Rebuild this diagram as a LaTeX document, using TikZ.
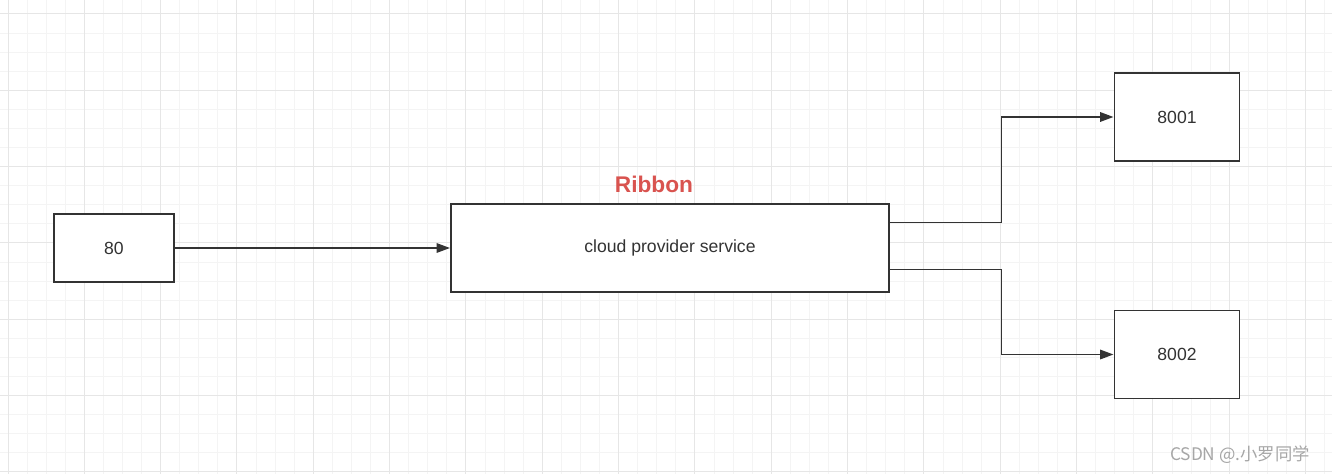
\documentclass[tikz,border=0pt]{standalone}
\usepackage{fontspec}
\setmainfont{Liberation Sans}
\newfontfamily\cjkfont{Noto Sans CJK SC}
\usetikzlibrary{arrows.meta}
\definecolor{gridminor}{HTML}{F4F4F4}
\definecolor{gridmajor}{HTML}{E6E6E6}
\definecolor{ink}{HTML}{333333}
\definecolor{ribbonred}{HTML}{D9534F}
\definecolor{wm}{HTML}{A6A6A6}
\tikzset{
  box/.style={draw=ink, line width=1.4pt, fill=white, inner sep=0pt, text=ink,
    font=\fontsize{13.2}{15}\selectfont},
  conn/.style={draw=ink, line width=1.4pt, -{Triangle[length=10pt,width=7pt]}},
  gminor/.style={draw=gridminor, line width=0.75pt},
  gmajor/.style={draw=gridmajor, line width=0.75pt},
}
\begin{document}
\begin{tikzpicture}[x=0.75pt,y=-0.75pt]
\useasboundingbox (0,0) rectangle (1332,474);
\fill[white] (0,0) rectangle (1332,474);
% grid: minor lines
\foreach \k in {0,...,69} {
  \draw[gminor] ({8+19.083*\k},0) -- ({8+19.083*\k},474);
}
\foreach \k in {0,...,24} {
  \draw[gminor] (0,{14+19.083*\k}) -- (1332,{14+19.083*\k});
}
% grid: major lines
\foreach \k in {0,4,...,68} {
  \draw[gmajor] ({8+19.083*\k},0) -- ({8+19.083*\k},474);
}
\foreach \k in {0,4,...,24} {
  \draw[gmajor] (0,{14+19.083*\k}) -- (1332,{14+19.083*\k});
}
% nodes
\node[box, minimum width=90pt, minimum height=51pt] (n80) at (114,248) {80};
\node[box, minimum width=328.5pt, minimum height=66pt] (svc) at (670,248) {cloud provider service};
\node[box, minimum width=93.75pt, minimum height=66pt] (n8001) at (1177,117) {8001};
\node[box, minimum width=93.75pt, minimum height=66pt] (n8002) at (1177,354.5) {8002};
\node[text=ribbonred, font=\fontsize{17}{20}\selectfont\bfseries] (rib) at (654,184) {Ribbon};
\node[text=wm, font=\fontsize{13}{15}\selectfont\cjkfont] (wmk) at (1240,455) {CSDN @.小罗同学};
% connectors
\draw[conn] (n80.east) -- (svc.west);
\coordinate (c1) at (1001.5,222.5);
\coordinate (c2) at (1001.5,269.5);
\draw[conn] (c1 -| svc.east) -- (c1) |- (n8001.west);
\draw[conn] (c2 -| svc.east) -- (c2) |- (n8002.west);
\end{tikzpicture}
\end{document}
